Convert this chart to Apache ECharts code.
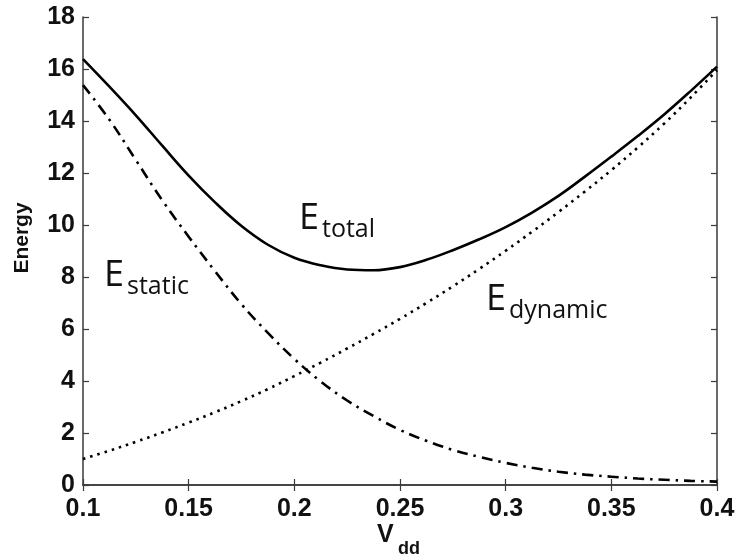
<!DOCTYPE html>
<html>
<head>
<meta charset="utf-8">
<script src="https://cdn.jsdelivr.net/npm/echarts@6/dist/echarts.min.js"></script>
<style>
  html, body { margin: 0; padding: 0; background: #ffffff; }
  #chart { width: 739px; height: 558px; }
</style>
</head>
<body>
<div id="chart"></div>
<script>
// Supply voltage samples (V)
const vdd = [0.1, 0.1125, 0.125, 0.1375, 0.15, 0.1625, 0.175, 0.1875, 0.2, 0.2125,
             0.225, 0.2375, 0.25, 0.2625, 0.275, 0.2875, 0.3, 0.3125, 0.325, 0.3375,
             0.35, 0.3625, 0.375, 0.3875, 0.4];

// Total energy per operation
const eTotal = [16.38, 15.32, 14.22, 13.05, 11.9, 10.87, 9.96, 9.24, 8.74, 8.45,
                8.29, 8.26, 8.38, 8.66, 9.03, 9.45, 9.92, 10.48, 11.12, 11.86,
                12.63, 13.42, 14.25, 15.15, 16.09];

// Leakage (static) energy
const eStatic = [15.38, 14.05, 12.5, 10.95, 9.55, 8.22, 6.95, 5.85, 4.85, 3.98,
                 3.25, 2.65, 2.12, 1.7, 1.35, 1.08, 0.85, 0.66, 0.51, 0.4,
                 0.32, 0.25, 0.2, 0.16, 0.13];

// Switching (dynamic) energy
const eDynamic = [1.0, 1.32, 1.66, 2.02, 2.4, 2.8, 3.23, 3.69, 4.19, 4.71,
                  5.25, 5.81, 6.39, 7.0, 7.64, 8.31, 9.01, 9.74, 10.5, 11.29,
                  12.11, 12.98, 13.9, 14.9, 15.96];

const xTicks = { min: 0.1, max: 0.4, interval: 0.05 };
const yTicks = { min: 0, max: 18, interval: 2 };

const pairs = (ys) => vdd.map((v, i) => [v, ys[i]]);

const axisColor = '#3a3a3a';
const boldFamily = 'Liberation Sans, Arial, sans-serif';
const tickFont = { fontFamily: boldFamily, fontWeight: 'bold', fontSize: 25, color: '#111' };
const annoFont = 'Open Sans, Noto Sans, sans-serif';

const chart = echarts.init(document.getElementById('chart'), null, { renderer: 'canvas' });

function frameAxis(extra) {
  return Object.assign({
    type: 'value',
    axisLine: { show: true, lineStyle: { color: axisColor, width: 1.5 } },
    axisTick: { show: true, inside: true, length: 6, lineStyle: { color: axisColor, width: 1.2 } },
    splitLine: { show: false }
  }, extra);
}

// Curve labels: a large "E" with its subscript beside it
function curveLabel(x, y, sub) {
  return [
    { type: 'text', left: x, top: y, style: { text: 'E', font: '36px ' + annoFont, fill: '#111' } },
    { type: 'text', left: x + 23, top: y + 16, style: { text: sub, font: '25px ' + annoFont, fill: '#111' } }
  ];
}

chart.setOption({
  animation: false,
  backgroundColor: '#ffffff',
  grid: { left: 83, right: 22, top: 17, bottom: 73, containLabel: false, outerBoundsMode: 'none' },
  xAxis: [
    frameAxis(Object.assign({
      position: 'bottom',
      axisLabel: Object.assign({ margin: 12, formatter: (v) => String(+v.toFixed(2)) }, tickFont)
    }, xTicks)),
    frameAxis(Object.assign({ position: 'top', axisLabel: { show: false } }, xTicks))
  ],
  yAxis: [
    frameAxis(Object.assign({
      position: 'left',
      axisLabel: Object.assign({ margin: 8 }, tickFont)
    }, yTicks)),
    frameAxis(Object.assign({ position: 'right', axisLabel: { show: false } }, yTicks))
  ],
  series: [
    {
      name: 'E_total', type: 'line', data: pairs(eTotal), smooth: 0.4, showSymbol: false,
      lineStyle: { color: '#000', width: 2.6 }
    },
    {
      name: 'E_static', type: 'line', data: pairs(eStatic), smooth: 0.4, showSymbol: false,
      lineStyle: { color: '#000', width: 2.6, type: [11, 6, 2.5, 6] }
    },
    {
      name: 'E_dynamic', type: 'line', data: pairs(eDynamic), smooth: 0.4, showSymbol: false,
      lineStyle: { color: '#000', width: 2.6, type: [2.5, 5] }
    }
  ],
  graphic: [
    // y-axis title
    {
      type: 'text', x: 22, y: 238, rotation: Math.PI / 2,
      style: { text: 'Energy', font: 'bold 21px ' + boldFamily, fill: '#111', align: 'center', verticalAlign: 'middle' }
    },
    // x-axis title V_dd
    { type: 'text', left: 377, top: 523, style: { text: 'V', font: 'bold 25px ' + boldFamily, fill: '#111' } },
    { type: 'text', left: 398, top: 540, style: { text: 'dd', font: 'bold 18px ' + boldFamily, fill: '#111' } }
  ].concat(curveLabel(299, 201, 'total'), curveLabel(104, 258, 'static'), curveLabel(486, 282, 'dynamic'))
});
</script>
</body>
</html>
